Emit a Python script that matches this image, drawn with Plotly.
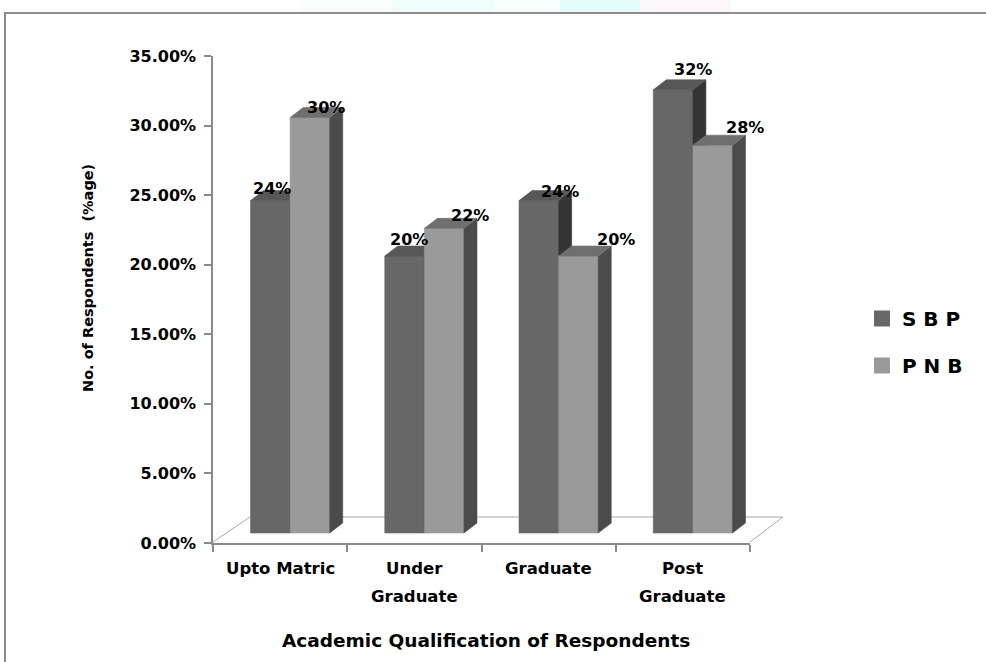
import plotly.graph_objects as go

# ---------------- data ----------------
CATEGORIES = ["Upto Matric", "Under Graduate", "Graduate", "Post Graduate"]
CATEGORY_LINES = [["Upto Matric"], ["Under", "Graduate"], ["Graduate"], ["Post", "Graduate"]]
SERIES = ["SBP", "PNB"]
LEGEND_NAMES = ["S B P", "P N B"]
SBP = [24, 20, 24, 32]
PNB = [30, 22, 20, 28]
Y_TICKS = [0, 5, 10, 15, 20, 25, 30, 35]
Y_TICK_TEXT = [f"{v:.2f}%" for v in Y_TICKS]
Y_TITLE = "No. of Respondents  (%age)"
X_TITLE = "Academic Qualification of Respondents"

# ---------------- style / layout constants (pixels) ----------------
W, H = 986, 662
L, R, T, B = 213, 750, 56, 543
PW, PH = R - L, B - T
X_UNIT = PW / 4.0            # px per category
BAR_Y_UNIT = 13.85           # px per percent for the 3-D bars
BAR_BASE_PX = 10             # bars stand this far behind/above the front floor edge
GROUP_SHIFT_PX = 10
BAR_W_PX = 39.6
DEPTH_X_PX = 13
DEPTH_Y_PX = 10

FACE_COLORS = {
    "SBP": {"front": "#676767", "side": "#343434", "top": "#575757"},
    "PNB": {"front": "#9a9a9a", "side": "#4b4b4b", "top": "#6f6f6f"},
}
LEGEND_COLORS = ["#686868", "#9a9a9a"]
# label offsets (px) relative to the bar's front-top centre
LABEL_DX = {"SBP": [2, 4, 21, 20], "PNB": [16, 26, 38, 32]}
LABEL_DY = {"SBP": [12, 17, 9, 20], "PNB": [10, 13, 17, 18]}

FONT = "DejaVu Sans"


def px_x(px):
    return (px - L) / PW


def px_y(py):
    return (B - py) / PH


bw = BAR_W_PX / X_UNIT
ddx = DEPTH_X_PX / X_UNIT
ddy = DEPTH_Y_PX / BAR_Y_UNIT

values = {"SBP": SBP, "PNB": PNB}

fig = go.Figure()

for k, s in enumerate(SERIES):
    faces = {"front": ([], []), "side": ([], []), "top": ([], [])}
    for i, v in enumerate(values[s]):
        xl = i - bw + k * bw
        xr = xl + bw
        polys = {
            "front": [(xl, 0), (xr, 0), (xr, v), (xl, v), (xl, 0)],
            "side": [(xr, 0), (xr + ddx, ddy), (xr + ddx, v + ddy), (xr, v), (xr, 0)],
            "top": [(xl, v), (xl + ddx, v + ddy), (xr + ddx, v + ddy), (xr, v), (xl, v)],
        }
        for f, pts in polys.items():
            xs, ys = faces[f]
            xs.extend([p[0] for p in pts] + [None])
            ys.extend([p[1] for p in pts] + [None])
    for f in ["front", "side", "top"]:
        c = FACE_COLORS[s][f]
        fig.add_trace(go.Scatter(
            x=faces[f][0], y=faces[f][1], mode="lines", fill="toself",
            fillcolor=c, line=dict(color=c, width=0.6),
            xaxis="x2", yaxis="y2", hoverinfo="skip", showlegend=False,
        ))

# legend entries
for k, s in enumerate(SERIES):
    fig.add_trace(go.Scatter(
        x=[None], y=[None], mode="markers", name=LEGEND_NAMES[k],
        legendgroup=s,
        marker=dict(symbol="square", size=18, color=LEGEND_COLORS[k]),
    ))

annotations = []
# data labels
for k, s in enumerate(SERIES):
    for i, v in enumerate(values[s]):
        xc = i - bw + k * bw + bw / 2
        annotations.append(dict(
            x=xc, y=v, xref="x2", yref="y2", text=f"{v}%", showarrow=False,
            xshift=LABEL_DX[s][i], yshift=LABEL_DY[s][i],
            xanchor="center", yanchor="middle",
            font=dict(family=FONT, size=16, color="black", weight="bold"),
        ))

# category labels
for i, lines in enumerate(CATEGORY_LINES):
    for j, line in enumerate(lines):
        annotations.append(dict(
            x=i, y=px_y(568 + 28 * j), xref="x", yref="paper", text=line,
            showarrow=False, xanchor="center", yanchor="middle",
            font=dict(family=FONT, size=16.5, color="black", weight="bold"),
        ))

# axis titles
annotations.append(dict(
    x=px_x(486), y=px_y(640), xref="paper", yref="paper", text=X_TITLE,
    showarrow=False, xanchor="center", yanchor="middle",
    font=dict(family=FONT, size=18.5, color="black", weight="bold"),
))
annotations.append(dict(
    x=px_x(88), y=px_y(278), xref="paper", yref="paper", text=Y_TITLE,
    showarrow=False, textangle=-90, xanchor="center", yanchor="middle",
    font=dict(family=FONT, size=14.5, color="black", weight="bold"),
))

shapes = []
# faint page background tints above the frame
for x0, x1, col in [(300, 392, "#fbfcfe"), (392, 494, "#effdfd"), (494, 560, "#f8fefe"),
                    (560, 640, "#e3fdfd"), (640, 730, "#fdf7fd")]:
    shapes.append(dict(type="rect", xref="paper", yref="paper", x0=px_x(x0), x1=px_x(x1),
                       y0=px_y(12), y1=px_y(0), line=dict(width=0), fillcolor=col, layer="below"))
# frame
shapes.append(dict(type="rect", xref="paper", yref="paper", x0=px_x(5), x1=px_x(995),
                   y0=px_y(675), y1=px_y(13), line=dict(color="#8c8c8c", width=2),
                   fillcolor="rgba(0,0,0,0)", layer="below"))
# 3-D floor outline
floor_col = "#a8a8a8"
shapes.append(dict(type="line", xref="paper", yref="paper", x0=px_x(213), y0=px_y(542),
                   x1=px_x(250), y1=px_y(517), line=dict(color=floor_col, width=1), layer="below"))
shapes.append(dict(type="line", xref="paper", yref="paper", x0=px_x(250), y0=px_y(517),
                   x1=px_x(783), y1=px_y(517), line=dict(color=floor_col, width=1), layer="below"))
shapes.append(dict(type="line", xref="paper", yref="paper", x0=px_x(750), y0=px_y(542),
                   x1=px_x(783), y1=px_y(517), line=dict(color=floor_col, width=1), layer="below"))

fig.update_layout(
    width=W, height=H,
    margin=dict(l=L, r=W - R, t=T, b=H - B, pad=0),
    paper_bgcolor="white", plot_bgcolor="rgba(0,0,0,0)",
    font=dict(family=FONT, color="black"),
    showlegend=True,
    legend=dict(
        x=px_x(862), y=px_y(342), xanchor="left", yanchor="middle",
        font=dict(family=FONT, size=20, color="black", weight="bold"),
        tracegroupgap=18, itemsizing="trace", bgcolor="rgba(0,0,0,0)",
    ),
    xaxis=dict(
        range=[-0.5, 3.5], showgrid=False, zeroline=False,
        showline=True, linecolor="#8a8a8a", linewidth=2,
        tickvals=[-0.5, 0.5, 1.5, 2.5, 3.5], ticks="outside", ticklen=7,
        tickcolor="#8a8a8a", tickwidth=2, showticklabels=False,
    ),
    yaxis=dict(
        range=[0, 35], showgrid=False, zeroline=False,
        showline=True, linecolor="#8a8a8a", linewidth=1.5,
        tickvals=Y_TICKS, ticktext=Y_TICK_TEXT,
        ticks="outside", ticklen=7, tickcolor="#8a8a8a", tickwidth=1.5,
        ticklabelstandoff=5,
        tickfont=dict(family=FONT, size=16, color="black", weight="bold"),
    ),
    xaxis2=dict(
        overlaying="x", visible=False,
        range=[-0.5 - GROUP_SHIFT_PX / X_UNIT, 3.5 - GROUP_SHIFT_PX / X_UNIT],
    ),
    yaxis2=dict(
        overlaying="y", visible=False,
        range=[-BAR_BASE_PX / BAR_Y_UNIT, (B - BAR_BASE_PX - T) / BAR_Y_UNIT],
    ),
    annotations=annotations,
    shapes=shapes,
)

fig.write_html("out.html")
